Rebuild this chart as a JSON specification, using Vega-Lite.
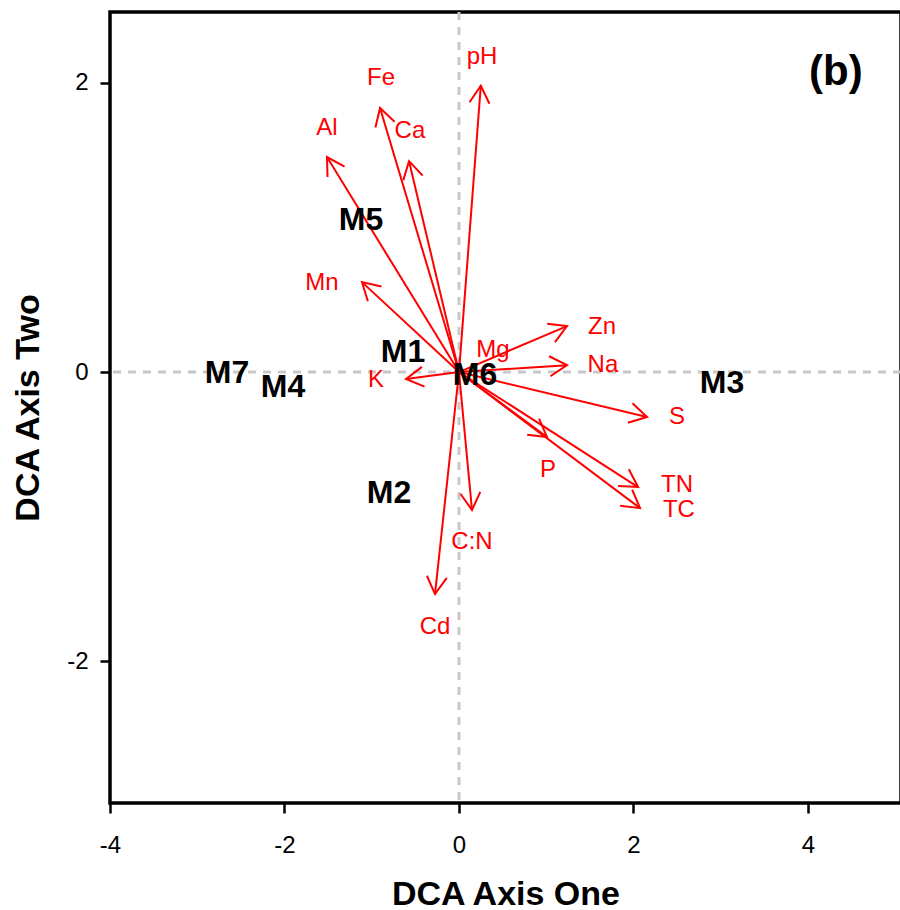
{
  "$schema": "https://vega.github.io/schema/vega-lite/v6.json",
  "width": 791,
  "height": 791,
  "autosize": {"type": "none"},
  "padding": {"left": 110, "top": 12, "right": 0, "bottom": 107},
  "background": "white",
  "config": {
    "view": {"stroke": "black", "strokeWidth": 3.5},
    "font": "Liberation Sans",
    "axis": {
      "grid": false, "domain": false, "ticks": true,
      "tickColor": "black", "tickWidth": 2.5, "tickSize": 10,
      "labelColor": "black", "labelFontSize": 24, "labelFont": "Liberation Sans",
      "labelExpr": "'' + datum.value",
      "titleFont": "Liberation Sans", "titleFontSize": 34, "titleFontWeight": "bold", "titleColor": "black"
    },
    "axisX": {"labelPadding": 20, "titleY": 101, "titleBaseline": "alphabetic", "labelFlush": false},
    "axisY": {"labelPadding": 12, "titleX": -72, "titleBaseline": "alphabetic"}
  },
  "datasets": {
    "arrows": [
      {"var": "pH", "x": 0.25, "y": 1.98},
      {"var": "Fe", "x": -0.905, "y": 1.826},
      {"var": "Ca", "x": -0.573, "y": 1.459},
      {"var": "Al", "x": -1.513, "y": 1.487},
      {"var": "Mn", "x": -1.112, "y": 0.622},
      {"var": "Zn", "x": 1.238, "y": 0.318},
      {"var": "Na", "x": 1.238, "y": 0.048},
      {"var": "K", "x": -0.607, "y": -0.048},
      {"var": "S", "x": 2.155, "y": -0.311},
      {"var": "P", "x": 1.009, "y": -0.449},
      {"var": "TN", "x": 2.052, "y": -0.795},
      {"var": "TC", "x": 2.075, "y": -0.941},
      {"var": "C:N", "x": 0.149, "y": -0.954},
      {"var": "Cd", "x": -0.275, "y": -1.535}
    ],
    "labels": [
      {"var": "pH", "x": 0.264, "y": 2.178},
      {"var": "Fe", "x": -0.894, "y": 2.033},
      {"var": "Ca", "x": -0.562, "y": 1.667},
      {"var": "Al", "x": -1.513, "y": 1.687},
      {"var": "Mn", "x": -1.57, "y": 0.615},
      {"var": "Zn", "x": 1.639, "y": 0.311},
      {"var": "Na", "x": 1.65, "y": 0.048},
      {"var": "Mg", "x": 0.39, "y": 0.152},
      {"var": "K", "x": -0.951, "y": -0.055},
      {"var": "S", "x": 2.499, "y": -0.311},
      {"var": "P", "x": 1.02, "y": -0.678},
      {"var": "TN", "x": 2.499, "y": -0.78},
      {"var": "TC", "x": 2.521, "y": -0.955},
      {"var": "C:N", "x": 0.149, "y": -1.176},
      {"var": "Cd", "x": -0.275, "y": -1.763}
    ],
    "sites": [
      {"site": "M5", "x": -1.123, "y": 1.051},
      {"site": "M1", "x": -0.642, "y": 0.138},
      {"site": "M6", "x": 0.183, "y": -0.021},
      {"site": "M7", "x": -2.659, "y": -0.007},
      {"site": "M4", "x": -2.017, "y": -0.104},
      {"site": "M3", "x": 3.014, "y": -0.076},
      {"site": "M2", "x": -0.802, "y": -0.837}
    ]
  },
  "layer": [
    {
      "data": {"values": [{}]},
      "mark": {"type": "rule", "stroke": "#c8c8c8", "strokeWidth": 3, "strokeDash": [8, 7]},
      "encoding": {
        "y": {"datum": 0, "type": "quantitative", "scale": {"domain": [-2.98, 2.49], "nice": false, "zero": false}}
      }
    },
    {
      "data": {"values": [{}]},
      "mark": {"type": "rule", "stroke": "#c8c8c8", "strokeWidth": 3, "strokeDash": [8, 7]},
      "encoding": {
        "x": {"datum": 0, "type": "quantitative", "scale": {"domain": [-4, 5.066], "nice": false, "zero": false}}
      }
    },
    {
      "data": {"name": "arrows"},
      "mark": {"type": "rule", "stroke": "#ff0000", "strokeWidth": 2},
      "encoding": {
        "x": {"field": "x", "type": "quantitative", "scale": {"domain": [-4, 5.066], "nice": false, "zero": false},
              "axis": {"title": "DCA Axis One", "values": [-4, -2, 0, 2, 4]}},
        "y": {"field": "y", "type": "quantitative", "scale": {"domain": [-2.98, 2.49], "nice": false, "zero": false},
              "axis": {"title": "DCA Axis Two", "values": [-2, 0, 2]}},
        "x2": {"datum": 0},
        "y2": {"datum": 0}
      }
    },
    {
      "data": {"name": "arrows"},
      "transform": [{"calculate": "atan2(datum.x * 87.25, datum.y * 144.6) * 180 / PI", "as": "ang"}],
      "mark": {"type": "point", "shape": "M-0.5,0.866L0,0L0.5,0.866", "filled": false, "stroke": "#ff0000", "strokeWidth": 2, "size": 1600, "opacity": 1},
      "encoding": {
        "x": {"field": "x", "type": "quantitative", "scale": {"domain": [-4, 5.066], "nice": false, "zero": false}, "title": "DCA Axis One"},
        "y": {"field": "y", "type": "quantitative", "scale": {"domain": [-2.98, 2.49], "nice": false, "zero": false}, "title": "DCA Axis Two"},
        "angle": {"field": "ang", "type": "quantitative", "scale": null}
      }
    },
    {
      "data": {"name": "labels"},
      "mark": {"type": "text", "fill": "#ff0000", "fontSize": 24, "font": "Liberation Sans", "align": "center", "baseline": "middle"},
      "encoding": {
        "x": {"field": "x", "type": "quantitative", "scale": {"domain": [-4, 5.066], "nice": false, "zero": false}, "title": "DCA Axis One"},
        "y": {"field": "y", "type": "quantitative", "scale": {"domain": [-2.98, 2.49], "nice": false, "zero": false}, "title": "DCA Axis Two"},
        "text": {"field": "var"}
      }
    },
    {
      "data": {"name": "sites"},
      "mark": {"type": "text", "fill": "black", "fontSize": 32, "fontWeight": "bold", "font": "Liberation Sans", "align": "center", "baseline": "middle"},
      "encoding": {
        "x": {"field": "x", "type": "quantitative", "scale": {"domain": [-4, 5.066], "nice": false, "zero": false}, "title": "DCA Axis One"},
        "y": {"field": "y", "type": "quantitative", "scale": {"domain": [-2.98, 2.49], "nice": false, "zero": false}, "title": "DCA Axis Two"},
        "text": {"field": "site"}
      }
    },
    {
      "data": {"values": [{"tag": "(b)"}]},
      "mark": {"type": "text", "fill": "black", "fontSize": 42, "fontWeight": "bold", "font": "Liberation Sans", "align": "center", "baseline": "middle"},
      "encoding": {
        "x": {"datum": 4.32, "type": "quantitative", "scale": {"domain": [-4, 5.066], "nice": false, "zero": false}},
        "y": {"datum": 2.075, "type": "quantitative", "scale": {"domain": [-2.98, 2.49], "nice": false, "zero": false}},
        "text": {"field": "tag"}
      }
    }
  ]
}
